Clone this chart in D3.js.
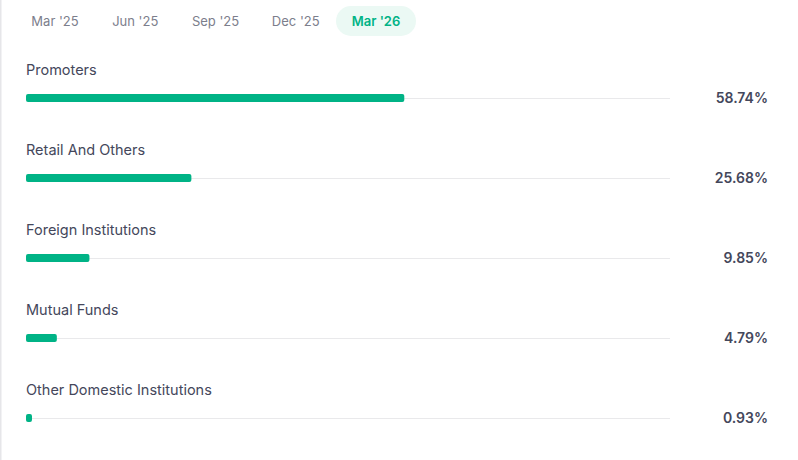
<!DOCTYPE html>
<html>
<head>
<meta charset="utf-8">
<script src="https://cdn.jsdelivr.net/npm/d3@7/dist/d3.min.js"></script>
<style>
  html, body { margin: 0; padding: 0; background: #fff; }
  svg { display: block; font-family: Inter, "Noto Sans", sans-serif; }
</style>
</head>
<body>
<svg id="chart" width="798" height="460"></svg>
<script>
const quarters = ["Mar '25", "Jun '25", "Sep '25", "Dec '25", "Mar '26"];
const activeQuarter = "Mar '26";
const holders = ["Promoters", "Retail And Others", "Foreign Institutions", "Mutual Funds", "Other Domestic Institutions"];
const shares = [58.74, 25.68, 9.85, 4.79, 0.93];

const green = '#00b386';
const svg = d3.select('#chart');

// left border
svg.append('line')
    .attr('x1', 0.5).attr('x2', 0.5)
    .attr('y1', 0).attr('y2', 460)
    .attr('stroke', '#e6e6e9')
    .attr('stroke-width', 2);

// quarter tabs
const tabX = d3.scalePoint()
    .domain(quarters)
    .range([55, 376]);

const tabs = svg.selectAll('g.tab')
    .data(quarters)
    .join('g')
    .attr('class', 'tab')
    .attr('transform', d => `translate(${tabX(d)},21)`);

tabs.filter(d => d === activeQuarter)
    .append('rect')
    .attr('x', -40).attr('y', -15)
    .attr('width', 80).attr('height', 30)
    .attr('rx', 15)
    .attr('fill', '#ebf9f4');

tabs.append('text')
    .attr('text-anchor', 'middle')
    .attr('dy', '0.35em')
    .attr('font-size', 13)
    .attr('font-weight', d => d === activeQuarter ? 600 : 400)
    .attr('fill', d => d === activeQuarter ? green : '#7c7e8c')
    .text(d => d);

// rows
const x = d3.scaleLinear().domain([0, 100]).range([26, 670]);
const y = d3.scaleBand().domain(holders).range([56, 456]);

const rows = svg.selectAll('g.row')
    .data(holders.map((h, i) => ({ name: h, value: shares[i] })))
    .join('g')
    .attr('class', 'row')
    .attr('transform', d => `translate(0,${y(d.name)})`);

rows.append('text')
    .attr('x', 26).attr('y', 14)
    .attr('dy', '0.35em')
    .attr('font-size', 14.5)
    .attr('fill', '#44475b')
    .text(d => d.name);

rows.append('line')
    .attr('x1', x(0)).attr('x2', x(100))
    .attr('y1', 42.5).attr('y2', 42.5)
    .attr('stroke', '#e9e9eb')
    .attr('stroke-width', 1);

rows.append('rect')
    .attr('x', x(0))
    .attr('y', 38)
    .attr('width', d => Math.max(5, x(d.value) - x(0)))
    .attr('height', 8)
    .attr('rx', 2)
    .attr('fill', green);

rows.append('text')
    .attr('x', 768).attr('y', 42)
    .attr('dy', '0.35em')
    .attr('text-anchor', 'end')
    .attr('font-size', 14)
    .attr('font-weight', 600)
    .attr('fill', '#44475b')
    .text(d => d.value.toFixed(2) + '%');
</script>
</body>
</html>
